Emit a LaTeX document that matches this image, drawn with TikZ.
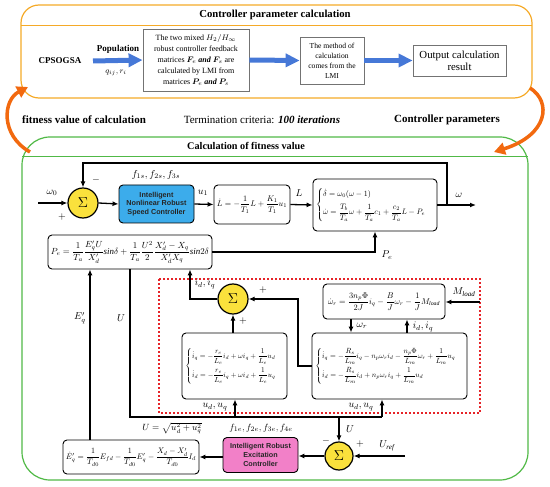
\documentclass[tikz,border=0pt]{standalone}
\usepackage{fontspec}
\setmainfont{Liberation Serif}
\setsansfont{Liberation Sans}
\usepackage{amsmath,bm}
\usetikzlibrary{arrows.meta}
\definecolor{obox}{RGB}{245,170,40}
\definecolor{oarr}{RGB}{242,105,15}
\definecolor{gbox}{RGB}{80,185,70}
\definecolor{bctrl}{RGB}{60,172,235}
\definecolor{pctrl}{RGB}{242,128,200}
\definecolor{ysum}{RGB}{250,225,60}
\definecolor{rdash}{RGB}{230,35,40}
\definecolor{barr}{RGB}{70,120,215}
\tikzset{
  sig/.style={line width=1.3pt,-{Latex[length=6pt,width=5pt]}},
  wire/.style={line width=1.3pt},
  eqbox/.style={draw,line width=0.9pt,rounded corners=4pt,fill=white,inner sep=1pt},
  gbx/.style={draw=black!55,line width=0.8pt,fill=white,inner sep=1pt,align=center},
  sumnode/.style={circle,draw,line width=1.2pt,fill=ysum,minimum size=30pt,inner sep=0pt,font=\Large},
  ctrl/.style={draw,line width=0.9pt,rounded corners=4pt,align=center,font=\sffamily\bfseries\fontsize{7.2}{8.6}\selectfont,text=black!85},
  barrow/.style={barr,line width=5pt,-{Triangle[length=14pt,width=13pt]}},
  oarrow/.style={oarr,line width=3.5pt,-{Triangle[length=11pt,width=12pt]}},
  lbl/.style={inner sep=0pt,font=\fontsize{9}{10}\selectfont},
  mlbl/.style={inner sep=0pt,font=\fontsize{10}{11}\selectfont},
}
\begin{document}
\begin{tikzpicture}[x=1pt,y=-1pt]
\useasboundingbox (0,0) rectangle (550,487);
% ---------- top box ----------
\node[draw=obox,line width=1.2pt,rounded corners=18pt,minimum width=511pt,minimum height=93pt] (ctop) at (276.5,51.5) {};
\coordinate (dl) at (21,25); \coordinate (dr) at (532,25);
\draw[obox,line width=0.8pt] (dl) -- (dr);
\node[lbl,font=\bfseries\fontsize{10.7}{12}\selectfont] (ttop) at (275,15) {Controller parameter calculation};
\node[lbl,font=\bfseries\fontsize{9}{10}\selectfont] (cps) at (60,61) {CPSOGSA};
\coordinate (ba1) at (93,61);
\node[gbx,minimum width=106pt,minimum height=62pt,font=\fontsize{8}{11}\selectfont] (b1) at (196,60)
 {The two mixed $H_2/H_\infty$\\robust controller feedback\\matrices $\bm{F}_e$ $\bm{\mathit{and}}$ $\bm{F}_s$ are\\calculated by LMI from\\matrices $\bm{P}_e$ $\bm{\mathit{and}}$ $\bm{P}_s$};
\draw[barrow] (ba1) -- (b1.west);
\node[lbl,font=\bfseries\fontsize{9}{10}\selectfont] (pop) at (118,49) {Population};
\node[lbl,font=\fontsize{8}{9}\selectfont] (qr) at (116,73) {$q_{ij}, r_i$};
\node[gbx,minimum width=64pt,minimum height=47pt,font=\fontsize{7.6}{10}\selectfont] (b2) at (332,60.5)
 {The method of\\calculation\\comes from the\\LMI};
\node[gbx,minimum width=93pt,minimum height=31pt,font=\fontsize{10.8}{12}\selectfont] (b3) at (459.5,60.5)
 {Output calculation\\result};
\draw[barrow] (b1.east) -- (b2.west);
\draw[barrow] (b2.east) -- (b3.west);
% ---------- middle labels and orange arrows ----------
\node[lbl,font=\bfseries\fontsize{11}{12}\selectfont] (lfit) at (84,120) {fitness value of calculation};
\node[lbl,font=\fontsize{11}{12}\selectfont] (lterm) at (262,120) {Termination criteria: \textbf{\textit{100 iterations}}};
\node[lbl,font=\bfseries\fontsize{11}{12}\selectfont] (lcp) at (447,120) {Controller parameters};
% ---------- green box ----------
\node[draw=gbox,line width=1.2pt,rounded corners=28pt,minimum width=506pt,minimum height=343pt] (cbot) at (275,308.5) {};
\coordinate (gl) at (22,156); \coordinate (gr) at (528,156);
\draw[gbox,line width=0.8pt] (gl) -- (gr);
\node[lbl,font=\bfseries\fontsize{10.2}{11}\selectfont] (tbot) at (246,146) {Calculation of fitness value};
\coordinate (oa1) at (30,152); \coordinate (oa1e) at (28,87);
\draw[oarrow] (oa1) .. controls (0,135) and (3,100) .. (oa1e);
\coordinate (oa2) at (530,88); \coordinate (oa2e) at (494,152);
\draw[oarrow] (oa2) .. controls (552,102) and (548,135) .. (oa2e);
% ---------- speed loop ----------
\node[sumnode] (s1) at (83,203) {$\Sigma$};
\coordinate (w0) at (38,203);
\draw[sig] (w0) -- (s1.west);
\node[mlbl] (lw0) at (52,193) {$\omega_0$};
\node[mlbl] (lp1) at (62,217) {$+$};
\node[mlbl] (lm1) at (96,180) {$-$};
\node[ctrl,fill=bctrl,minimum width=75pt,minimum height=38pt] (sc) at (156.5,204) {Intelligent\\Nonlinear Robust\\Speed Controller};
\node[mlbl] (lfs) at (156,175) {$f_{1s}, f_{2s}, f_{3s}$};
\draw[sig] (s1.east) -- (sc.west);
\node[eqbox,minimum width=76pt,minimum height=39pt] (lb) at (252,204.5)
 {\resizebox{70pt}{!}{$\displaystyle \dot L = -\frac{1}{T_1}L + \frac{K_1}{T_1}u_1$}};
\draw[sig] (sc.east) -- (lb.west);
\node[mlbl] (lu1) at (203,193) {$u_1$};
\node[eqbox,minimum width=124pt,minimum height=52pt] (bb) at (375,205)
 {\resizebox{118pt}{!}{$\displaystyle \begin{cases}\dot\delta = \omega_0(\omega-1)\\[5pt] \dot\omega = \dfrac{T_b}{T_a}\omega + \dfrac{1}{T_a}c_1 + \dfrac{c_2}{T_a}L - P_e\end{cases}$}};
\draw[sig] (lb.east) -- (bb.west);
\node[mlbl] (lL) at (299,193) {$L$};
\coordinate (wout) at (476,205);
\draw[sig] (bb.east) -- (wout);
\node[mlbl] (lw) at (459,195) {$\omega$};
\coordinate (fb) at (447,205); \coordinate (fbt) at (447,163);
\draw[sig] (fb) -- (fbt) -| (s1.north);
% ---------- Pe ----------
\node[eqbox,minimum width=164pt,minimum height=34pt] (pe) at (130,252)
 {\resizebox{158pt}{!}{$\displaystyle P_e = \frac{1}{T_a}\frac{E_q'U}{X_d'}\mathit{sin}\delta + \frac{1}{T_a}\frac{U^2}{2}\frac{X_d'-X_q}{X_d'X_q}\mathit{sin}2\delta$}};
\draw[sig] (pe.east) -| (bb.south);
\node[mlbl] (lpe) at (387,255) {$P_e$};
% ---------- excitation ----------
\node[eqbox,minimum width=136pt,minimum height=34pt] (eq) at (131,457)
 {\resizebox{130pt}{!}{$\displaystyle \dot E_q' = \frac{1}{T_{d0}}E_{fd} - \frac{1}{T_{d0}}E_q' - \frac{X_d-X_d'}{T_{d0}}I_d$}};
\coordinate (ex) at (90,0);
\draw[sig] (eq.north -| ex) -- (pe.south -| ex);
\node[mlbl] (leq) at (80,318) {$E_q'$};
\node[ctrl,fill=pctrl,minimum width=75pt,minimum height=35pt] (xc) at (260.5,455) {Intelligent Robust\\Excitation\\Controller};
\node[mlbl,font=\fontsize{9.5}{11}\selectfont] (lfe) at (261,428) {$f_{1e}, f_{2e}, f_{3e}, f_{4e}$};
\node[mlbl,font=\fontsize{9}{10}\selectfont] (lsq) at (172,428) {$U = \sqrt{u_d^2 + u_q^2}$};
\draw[sig] (xc.west |- eq.east) -- (eq.east);
\node[sumnode,minimum size=28pt] (s2) at (339,456) {$\Sigma$};
\draw[sig] (s2.west) -- (s2.west -| xc.east);
\coordinate (uref) at (405,456);
\draw[sig] (uref) -- (s2.east);
\node[mlbl] (luref) at (387,446) {$U_{\mathit{ref}}$};
\node[mlbl] (lp2) at (360,444) {$+$};
\node[mlbl] (lm2) at (326,441) {$-$};
% ---------- red dashed region ----------
\coordinate (r1) at (159,279); \coordinate (r2) at (480,413);
\draw[rdash,line width=1.2pt,dash pattern=on 2pt off 2pt] (r1) rectangle (r2);
\node[sumnode] (s3) at (233,299) {$\Sigma$};
\node[eqbox,minimum width=105pt,minimum height=66pt] (le) at (234.5,366)
 {\resizebox{98pt}{!}{$\displaystyle \begin{cases}\dot i_q = -\dfrac{r_e}{L_e}i_d + \omega i_q + \dfrac{1}{L_e}u_d\\[8pt] \dot i_d = -\dfrac{r_e}{L_e}i_q + \omega i_d + \dfrac{1}{L_e}u_q\end{cases}$}};
\draw[sig] (le.north -| s3) -- (s3.south);
\node[mlbl] (lp3) at (243,321) {$+$};
\node[mlbl] (lp4) at (263,290) {$+$};
\coordinate (s3c) at (190,299);
\draw[sig] (s3.west) -- (s3c) -- (s3c |- pe.south);
\node[mlbl] (lidq) at (205,284) {$i_d, i_q$};
\node[eqbox,minimum width=122pt,minimum height=35pt] (wr) at (384,301.5)
 {\resizebox{112pt}{!}{$\displaystyle \dot\omega_r = \frac{3n_p\Phi}{2J}i_q - \frac{B}{J}\omega_r - \frac{1}{J}M_{\mathit{load}}$}};
\node[eqbox,minimum width=155pt,minimum height=66pt] (mo) at (389.5,366)
 {\resizebox{148pt}{!}{$\displaystyle \begin{cases}\dot i_q = -\dfrac{R_s}{L_m}i_q - n_p\omega_r i_d - \dfrac{n_p\Phi}{L_m}\omega_r + \dfrac{1}{L_m}u_q\\[8pt] \dot i_d = -\dfrac{R_s}{L_m}i_d + n_p\omega_r i_q + \dfrac{1}{L_m}u_d\end{cases}$}};
\coordinate (ml) at (480,302);
\draw[sig] (ml) -- (ml -| wr.east);
\node[mlbl] (lml) at (464,292) {$M_{\mathit{load}}$};
\coordinate (wrx) at (351,0); \coordinate (idx) at (407,0);
\draw[sig] (wr.south -| wrx) -- (mo.north -| wrx);
\draw[sig] (mo.north -| idx) -- (wr.south -| idx);
\node[mlbl] (lwr) at (362,326) {$\omega_r$};
\node[mlbl] (lid2) at (423,327) {$i_d, i_q$};
\coordinate (m1) at (298,366);
\draw[sig] (mo.west) -- (m1) |- (s3.east);
% ---------- U bus ----------
\coordinate (ua) at (130,417); \coordinate (ub) at (382,417);
\coordinate (uc) at (235,417); \coordinate (ud) at (339,417);
\draw[wire] (pe.south) -- (ua) -- (ub);
\draw[sig] (ub) -- (ub |- mo.south);
\draw[sig] (uc) -- (uc |- le.south);
\draw[sig] (ud) -- (s2.north);
\node[mlbl] (lU1) at (121,318) {$U$};
\node[mlbl] (lU2) at (350,429) {$U$};
\node[mlbl] (lud1) at (215,407) {$u_d, u_q$};
\node[mlbl] (lud2) at (361,407) {$u_d, u_q$};
\end{tikzpicture}
\end{document}
